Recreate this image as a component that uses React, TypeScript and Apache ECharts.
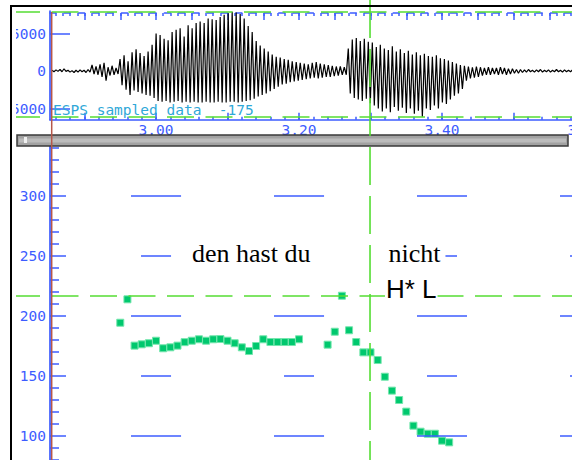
import { useEffect, useRef } from 'react';
import * as echarts from 'echarts';

const BLUE = '#3d5cff';
const GREEN_LINE = '#55dd33';
const POINT_GREEN = '#00c86e';
const RED = '#b5574a';
const MONO = '"DejaVu Sans Mono"';

// time axis extent (seconds)
const T_MIN = 2.8517;
const T_MAX = 3.6909;

const timeLabelValues = [3.0, 3.2, 3.4, 3.6];
const waveLabelValues = [-5000, 0, 5000];
const waveMidTicks = [-2500, 0, 2500];
const hzLabelValues = [100, 150, 200, 250, 300];

// waveform: one stroke per period, upper and lower extremes
const waveStart = 2.8545;
const waveStep = 0.0056;
const waveTop = [
  100, 150, 200, 300, 100, 50, 100, 150, 100, 200, 800,
  600, 900, 1100, 500, 700, 400,
  1600, 2100, 1300, 2500, 2900, 2400, 2000, 2600, 3500,
  5000, 4800, 4300, 4100, 5200, 5500, 5700, 4600, 6100, 5700, 6400, 6600, 6400, 7000, 6900, 6800, 7200, 7500, 7700,
  7900, 7800, 7600, 7000, 6000, 5200, 4000, 3400, 3000, 2600, 2200, 1900,
  1800, 1600, 1500, 1300, 1200, 1100, 1000, 900,
  1100, 1200, 1000, 900, 800, 700, 600, 600, 500,
  3000, 4200, 4400, 4000, 4300, 3900, 3800, 3200, 3500, 3000, 2800, 3300, 2600, 2900,
  2400, 2700, 2200, 2500, 2100, 2300, 2000, 1900, 2100, 1700, 1600, 1400, 1200, 1000, 800,
  700, 600, 500, 600, 500, 400, 500, 400, 400, 500, 400, 300, 300, 200,
  200, 150, 200, 100, 150, 200, 100, 150, 100, 200, 100, 150, 100, 150,
];
const waveBottom = [
  -100, -50, -100, -50, -150, -200, -150, -100, -200, -150, -400,
  -500, -800, -1300, -600, -500, -400,
  -1900, -2500, -3200, -2600, -2800, -3000, -3200, -3300, -3600,
  -4000, -4100, -4000, -4200, -4100, -4000, -4200, -4100, -4200, -4100, -4200, -4200, -4100, -4200, -4200, -4100, -4200, -4200, -4100,
  -4100, -4200, -4100, -4000, -3900, -3700, -3400, -3200, -3000, -2700, -2400, -2100,
  -1800, -1700, -1500, -1400, -1300, -1200, -1100, -1000,
  -900, -1000, -900, -800, -800, -700, -600, -500, -500,
  -3000, -3600, -3800, -4000, -3700, -4300, -4600, -5000, -5400, -5000, -5500, -4800, -5300, -4900,
  -5600, -5000, -5700, -5300, -6100, -5000, -5200, -4600, -5000, -4200, -4400, -3800, -3300, -3000, -2400,
  -1300, -1000, -900, -800, -600, -500, -500, -400, -500, -400, -500, -400, -300, -300,
  -200, -150, -100, -150, -100, -150, -100, -150, -100, -100, -150, -100, -100, -100,
];

// pitch track (seconds, Hz)
const pitchTimes = [
  2.95, 2.96, 2.97, 2.98, 2.99, 3.0, 3.01, 3.02, 3.03, 3.04, 3.05, 3.06, 3.07,
  3.08, 3.09, 3.1, 3.11, 3.12, 3.13, 3.14, 3.15, 3.16, 3.17, 3.18, 3.19, 3.2,
  3.24, 3.25, 3.26, 3.27, 3.28, 3.29, 3.3, 3.31, 3.32, 3.33, 3.34, 3.35, 3.36,
  3.37, 3.38, 3.39, 3.4, 3.41,
];
const pitchHz = [
  194.4, 213.9, 175.3, 176.4, 177.3, 179.4, 173.1, 173.9, 175.3, 178.2, 179.4, 180.6, 179.4,
  180.6, 180.8, 179.4, 177.3, 173.9, 170.8, 175.0, 180.6, 178.3, 178.3, 178.3, 178.3, 180.6,
  176.1, 186.9, 216.9, 188.1, 178.3, 169.7, 169.7, 163.3, 149.4, 137.8, 130.0, 120.3, 108.6,
  103.6, 101.9, 101.9, 96.1, 94.7,
];

// pitch-panel reference dashes
const gridTimes = [3.0, 3.2, 3.4, 3.6];
const majorLevels = [100, 200, 300];
const minorLevels = [150, 250];
const MAJOR_HALF = 0.035;
const MINOR_HALF = 0.021;

const cursorTime = 3.2993;
const cursorHz = 216.7;

const words = [
  { text: 'den hast du', t: 3.0503, hz: 252.3, font: '26px "Liberation Serif"' },
  { text: 'nicht', t: 3.3251, hz: 252.3, font: '26px "Liberation Serif"' },
  { text: 'H* L', t: 3.3216, hz: 222.5, font: '26px "Liberation Sans"' },
];

function ticksEvery(step: number): number[] {
  const out: number[] = [];
  const k0 = Math.ceil(T_MIN / step - 1e-6);
  const k1 = Math.floor(T_MAX / step + 1e-6);
  for (let k = k0; k <= k1; k++) out.push(Math.round(k * step * 1000) / 1000);
  return out;
}

export default function App() {
  const ref = useRef<HTMLDivElement>(null);
  useEffect(() => {
    const chart = echarts.init(ref.current!, null, { renderer: 'svg' });

    const waveData: number[][] = [];
    waveTop.forEach((top, i) => {
      const t = waveStart + i * waveStep;
      waveData.push([t, top]);
      waveData.push([t + waveStep / 2, waveBottom[i]]);
    });
    const pitchData = pitchTimes.map((t, i) => [t, pitchHz[i]]);

    const segs: any[] = [];
    gridTimes.forEach((t) => {
      majorLevels.forEach((lv) => segs.push([{ coord: [t - MAJOR_HALF, lv] }, { coord: [t + MAJOR_HALF, lv] }]));
      minorLevels.forEach((lv) => segs.push([{ coord: [t - MINOR_HALF, lv] }, { coord: [t + MINOR_HALF, lv] }]));
    });

    const tickStyle = { color: BLUE, width: 1.5 };
    const hiddenX = (grid: number, position: string, values: number[], len: number, offset = 0) => ({
      type: 'value', gridIndex: grid, min: T_MIN, max: T_MAX, position, offset,
      axisLine: { show: false, onZero: false },
      axisTick: { show: true, inside: true, length: len, customValues: values, lineStyle: tickStyle },
      axisLabel: { show: false }, splitLine: { show: false },
    });

    const option: any = {
      animation: false,
      backgroundColor: '#ffffff',
      grid: [
        { left: 50, top: 11, width: 600, height: 108.75, outerBoundsMode: 'none', containLabel: false },
        { left: 50, top: 136, width: 600, height: 420, outerBoundsMode: 'none', containLabel: false },
      ],
      xAxis: [
        {
          type: 'value', gridIndex: 0, min: T_MIN, max: T_MAX, position: 'bottom',
          axisLine: { show: true, onZero: false, lineStyle: { color: BLUE, width: 1.5 } },
          axisTick: { show: true, inside: true, length: 7, customValues: ticksEvery(0.1), lineStyle: tickStyle },
          axisLabel: {
            show: true, customValues: timeLabelValues, formatter: (v: number) => v.toFixed(2),
            color: BLUE, fontFamily: MONO, fontSize: 14.5, margin: 3,
          },
          splitLine: { show: false },
        },
        hiddenX(0, 'bottom', ticksEvery(0.02), 3),
        {
          type: 'value', gridIndex: 0, min: T_MIN, max: T_MAX, position: 'top', offset: -2,
          axisLine: { show: true, onZero: false, lineStyle: { color: BLUE, width: 1.5, type: [6, 8.3] } },
          axisTick: { show: true, inside: true, length: 3, customValues: ticksEvery(0.01), lineStyle: tickStyle },
          axisLabel: { show: false }, splitLine: { show: false },
        },
        hiddenX(0, 'top', ticksEvery(0.05), 7, -2),
        { type: 'value', gridIndex: 1, min: T_MIN, max: T_MAX, show: false, axisLine: { onZero: false } },
      ],
      yAxis: [
        {
          type: 'value', gridIndex: 0, min: -6500, max: 8000,
          axisLine: { show: true, onZero: false, lineStyle: { color: BLUE, width: 1.7 } },
          axisTick: { show: true, inside: true, length: 20, customValues: [-5000, 5000], lineStyle: tickStyle },
          axisLabel: {
            show: true, customValues: waveLabelValues, formatter: (v: number) => String(v),
            color: BLUE, fontFamily: MONO, fontSize: 14.5, margin: 4,
          },
          splitLine: { show: false },
        },
        {
          type: 'value', gridIndex: 0, min: -6500, max: 8000,
          axisLine: { show: false, onZero: false },
          axisTick: { show: true, inside: true, length: 13, customValues: waveMidTicks, lineStyle: tickStyle },
          axisLabel: { show: false }, splitLine: { show: false },
        },
        {
          type: 'value', gridIndex: 0, min: -6500, max: 8000, interval: 500,
          axisLine: { show: false, onZero: false },
          axisTick: { show: true, inside: true, length: 6, lineStyle: tickStyle },
          axisLabel: { show: false }, splitLine: { show: false },
        },
        {
          type: 'value', gridIndex: 1, min: 0, max: 350, interval: 50,
          axisLine: { show: true, onZero: false, lineStyle: { color: BLUE, width: 1.7 } },
          axisTick: { show: true, inside: true, length: 16, lineStyle: tickStyle },
          minorTick: { show: true, splitNumber: 5, length: 9, lineStyle: tickStyle },
          axisLabel: {
            show: true, customValues: hzLabelValues, formatter: (v: number) => String(v),
            color: BLUE, fontFamily: MONO, fontSize: 14.5, margin: 4,
          },
          splitLine: { show: false }, minorSplitLine: { show: false },
        },
        {
          type: 'value', gridIndex: 1, min: 0, max: 350, interval: 100,
          axisLine: { show: false, onZero: false },
          axisTick: { show: true, inside: true, length: 26, lineStyle: tickStyle },
          axisLabel: { show: false }, splitLine: { show: false },
        },
      ],
      series: [
        {
          type: 'line', name: 'waveform', xAxisIndex: 0, yAxisIndex: 0, data: waveData,
          showSymbol: false, symbol: 'none', clip: true, z: 3,
          lineStyle: { color: '#000000', width: 1.2 },
        },
        {
          type: 'scatter', name: 'F0', xAxisIndex: 4, yAxisIndex: 3, data: pitchData,
          symbol: 'rect', symbolSize: 7, z: 4,
          itemStyle: { color: POINT_GREEN, borderColor: '#74e6ad', borderWidth: 1, opacity: 1 },
          markLine: {
            silent: true, symbol: ['none', 'none'], label: { show: false },
            lineStyle: { color: BLUE, width: 1.5, type: 'solid' },
            emphasis: { disabled: true },
            data: segs,
          },
        },
      ],
    };
    chart.setOption(option);

    const cx = chart.convertToPixel({ xAxisIndex: 4 }, cursorTime) as number;
    const cy = chart.convertToPixel({ yAxisIndex: 3 }, cursorHz) as number;

    const textEls = words.map((w) => {
      const x = chart.convertToPixel({ xAxisIndex: 4 }, w.t) as number;
      const y = chart.convertToPixel({ yAxisIndex: 3 }, w.hz) as number;
      const pad = w.text === 'H* L' ? 1 : 5;
      return {
        type: 'text', x: x - pad, y, z: 20,
        style: {
          text: w.text, font: w.font, fill: '#000', backgroundColor: '#fff',
          padding: [2, pad, 2, pad], align: 'left', verticalAlign: 'middle',
        },
      };
    });

    const hDash = (y: number) => ({
      type: 'line', z: 6, shape: { x1: 13, y1: y, x2: 572, y2: y },
      style: { stroke: GREEN_LINE, lineWidth: 1.6, lineDash: [27, 11.5] },
    });

    chart.setOption({
      graphic: [
        hDash(12),
        hDash(117),
        hDash(cy),
        ...textEls,
        {
          type: 'text', x: 53, y: 110, z: 8,
          style: { text: 'ESPS sampled data  -175', font: `14.5px ${MONO}`, fill: '#2fa8d8', verticalAlign: 'middle' },
        },
        {
          type: 'rect', z: 40, shape: { x: 17, y: 135, width: 551, height: 11 },
          style: { fill: '#a2a2a2', stroke: '#3a3a3a', lineWidth: 1.5 },
        },
        {
          type: 'rect', z: 41, shape: { x: 19, y: 138.5, width: 547, height: 4 },
          style: { fill: '#bcbcbc' },
        },
        {
          type: 'rect', z: 42, shape: { x: 24, y: 137, width: 3, height: 6 },
          style: { fill: '#f0f0f0' },
        },
        {
          type: 'line', z: 45, shape: { x1: 51.7, y1: 12, x2: 51.7, y2: 460 },
          style: { stroke: RED, lineWidth: 1.5 },
        },
        {
          type: 'line', z: 46, shape: { x1: cx, y1: 0, x2: cx, y2: 460 },
          style: { stroke: GREEN_LINE, lineWidth: 1.6, lineDash: [38, 11] },
        },
        {
          type: 'rect', z: 50, shape: { x: 0, y: 0, width: 16, height: 460 },
          style: { fill: '#ffffff' },
        },
        {
          type: 'line', z: 60, shape: { x1: 11, y1: 5, x2: 11, y2: 460 },
          style: { stroke: '#000', lineWidth: 2 },
        },
        {
          type: 'line', z: 60, shape: { x1: 10, y1: 6, x2: 572, y2: 6 },
          style: { stroke: '#000', lineWidth: 2 },
        },
      ],
    });

    return () => chart.dispose();
  }, []);
  return <div ref={ref} style={{ position: 'fixed', left: 0, top: 0, width: 572, height: 460 }} />;
}
